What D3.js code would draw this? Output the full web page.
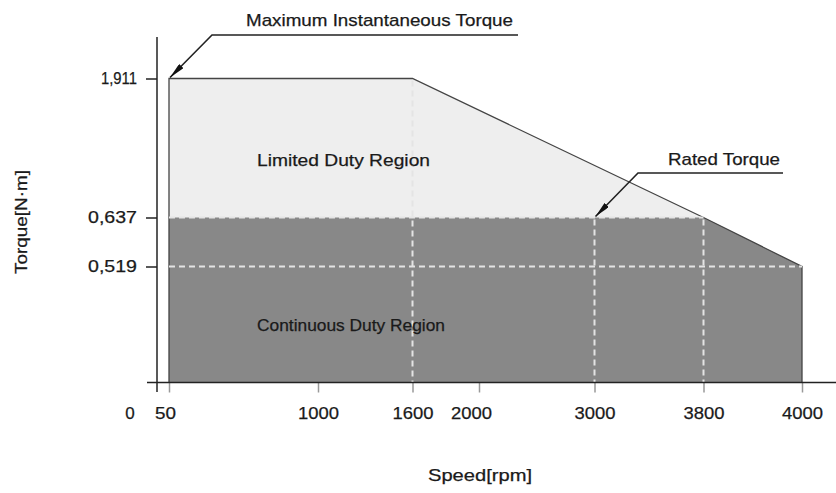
<!DOCTYPE html>
<html><head><meta charset="utf-8">
<script src="https://cdn.jsdelivr.net/npm/d3@7"></script>
<style>body{margin:0;background:#fff}svg{display:block}text{font-family:"Liberation Sans",Arial,sans-serif;fill:#1a1a1a;stroke:#1a1a1a;stroke-width:0.25px}</style>
</head><body><svg id="c" width="836" height="493"></svg>
<script>
// ---- data ----
const speedTicks = [50, 1000, 1600, 2000, 3000, 3800, 4000];
const torqueTicks = [0.519, 0.637, 1.911];
const torqueTickLabels = ["0,519", "0,637", "1,911"];
const peakSpeed = [50, 1600, 3800, 4000];
const peakTorque = [1.911, 1.911, 0.637, 0.519];
const ratedSpeed = [50, 3800, 4000];
const ratedTorque = [0.637, 0.637, 0.519];
const guideSpeeds = [1600, 3000, 3800];
const guideTop = [1.911, 0.637, 0.637];

const FS = 17;
const svg = d3.select("#c");
// schematic (non-uniform) axes
const x = d3.scaleLinear().domain([0, 50, 1000, 1600, 2000, 3000, 3800, 4000])
  .range([157, 169, 318, 412.5, 479, 594.5, 703.5, 802]);
const y = d3.scaleLinear().domain([0, 0.519, 0.637, 1.911])
  .range([382.5, 266.5, 217.5, 78.5]);

const peak = peakSpeed.map((s, i) => [s, peakTorque[i]]);
const rated = ratedSpeed.map((s, i) => [s, ratedTorque[i]]);

const area = d3.area().x(d => x(d[0])).y0(y(0)).y1(d => y(d[1])).curve(d3.curveLinear);
svg.append("path").attr("d", area(peak)).attr("fill", "#eeeeee");
svg.append("path").attr("d", area(rated)).attr("fill", "#888888");

// outline
const outline = [[50, 0]].concat(peak).concat([[4000, 0]]);
svg.append("path").attr("d", d3.line().x(d => x(d[0])).y(d => y(d[1]))(outline))
  .attr("fill", "none").attr("stroke", "#444").attr("stroke-width", 1.3);

// dashed guides
const g = svg.append("g").attr("stroke", "#e4e4e4").attr("stroke-width", 2).attr("stroke-dasharray", "6,4").attr("fill", "none");
g.append("line").attr("x1", x(50)).attr("x2", x(3800)).attr("y1", y(0.637)).attr("y2", y(0.637));
g.append("line").attr("x1", x(50)).attr("x2", x(4000)).attr("y1", y(0.519)).attr("y2", y(0.519));
guideSpeeds.forEach((s, i) => {
  g.append("line").attr("x1", x(s)).attr("x2", x(s)).attr("y1", y(guideTop[i]) + 2).attr("y2", y(0));
});

// axes
const xAxis = d3.axisBottom(x).tickValues(speedTicks).tickSize(10).tickFormat(d3.format("d")).tickPadding(14);
const xa = svg.append("g").attr("transform", `translate(0,${y(0)})`).call(xAxis);
xa.select(".domain").remove();
xa.selectAll(".tick line").attr("stroke", "#999").attr("stroke-width", 1.5);
xa.selectAll(".tick text").attr("font-size", FS).attr("font-family", null).attr("fill", null)
  .attr("textLength", d => d < 100 ? 21 : 41).attr("lengthAdjust", "spacingAndGlyphs")
  .attr("dx", d => d === 2000 ? -8 : (d === 50 ? -4 : 0));
svg.append("line").attr("x1", 147).attr("x2", 836).attr("y1", y(0)).attr("y2", y(0)).attr("stroke", "#222").attr("stroke-width", 1.5);

const yAxis = d3.axisLeft(y).tickValues(torqueTicks).tickSize(11).tickPadding(9)
  .tickFormat((d, i) => torqueTickLabels[i]);
const ya = svg.append("g").attr("transform", `translate(${x(0)},0)`).call(yAxis);
ya.select(".domain").remove();
ya.selectAll(".tick line").attr("stroke", "#222").attr("stroke-width", 1.5);
ya.selectAll(".tick text").attr("font-size", FS).attr("font-family", null).attr("fill", null)
  .attr("textLength", d => d > 1 ? 36 : 49).attr("lengthAdjust", "spacingAndGlyphs");
svg.append("line").attr("x1", x(0)).attr("x2", x(0)).attr("y1", 37).attr("y2", 392).attr("stroke", "#222").attr("stroke-width", 1.5);

// origin label (aligned with the x tick labels)
const xLabelY = y(0) + 10 + 14 + 0.71 * FS;
svg.append("text").attr("x", x(0) - 27).attr("y", xLabelY).attr("text-anchor", "middle").attr("font-size", FS).text("0");

// axis titles
svg.append("text").attr("x", 480).attr("y", 481).attr("text-anchor", "middle").attr("font-size", FS)
  .attr("textLength", 104).attr("lengthAdjust", "spacingAndGlyphs").text("Speed[rpm]");
svg.append("text").attr("transform", "translate(27,222) rotate(-90)").attr("text-anchor", "middle").attr("font-size", FS)
  .attr("textLength", 104).attr("lengthAdjust", "spacingAndGlyphs").text("Torque[N·m]");

// region labels
svg.append("text").attr("x", 257).attr("y", 166).attr("font-size", FS)
  .attr("textLength", 173).attr("lengthAdjust", "spacingAndGlyphs").text("Limited Duty Region");
svg.append("text").attr("x", 257).attr("y", 331).attr("font-size", FS)
  .attr("textLength", 188).attr("lengthAdjust", "spacingAndGlyphs").text("Continuous Duty Region");

// annotations
const defs = svg.append("defs");
defs.append("marker").attr("id", "arr").attr("viewBox", "0 0 16 6").attr("refX", 16).attr("refY", 3)
  .attr("markerWidth", 16).attr("markerHeight", 6).attr("markerUnits", "userSpaceOnUse").attr("orient", "auto")
  .append("path").attr("d", "M0,0L16,3L0,6Z").attr("fill", "#111");

function leader(tx, ty, kx, ky, ex) {
  svg.append("path").attr("d", `M${ex},${ky}L${kx},${ky}L${tx},${ty}`)
    .attr("fill", "none").attr("stroke", "#222").attr("stroke-width", 1.6).attr("marker-end", "url(#arr)");
}
leader(x(50) + 1, y(1.911) - 1, 212, 35, 518);
leader(x(3000) + 1, y(0.637) - 1, 638, 173, 783);

svg.append("text").attr("x", 246).attr("y", 26).attr("font-size", FS)
  .attr("textLength", 267).attr("lengthAdjust", "spacingAndGlyphs").text("Maximum Instantaneous Torque");
svg.append("text").attr("x", 668).attr("y", 165).attr("font-size", FS)
  .attr("textLength", 112).attr("lengthAdjust", "spacingAndGlyphs").text("Rated Torque");
</script></body></html>
